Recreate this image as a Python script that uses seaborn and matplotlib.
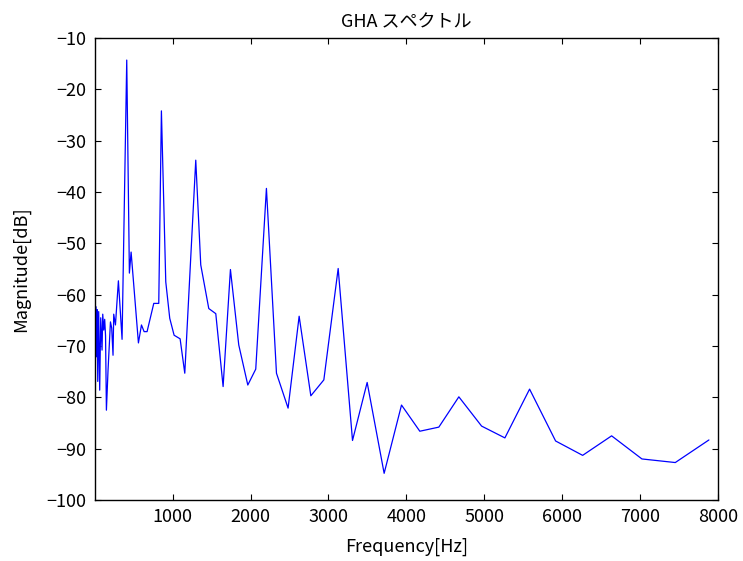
import numpy as np
import pandas as pd
import matplotlib
matplotlib.use('Agg')
import matplotlib.pyplot as plt
import seaborn as sns

# Spectrum values (Hz, dB)
freq = [4, 13, 22, 30, 39, 51, 64, 77, 94, 103, 116, 128, 139, 150, 171, 202,
        218, 235, 244, 266, 304, 351, 411, 445, 467, 561, 600, 634, 672, 758,
        822, 856, 912, 963, 1019, 1096, 1156, 1297, 1361, 1464, 1554, 1648,
        1742, 1849, 1965, 2067, 2204, 2333, 2482, 2624, 2774, 2941, 3125, 3309,
        3497, 3715, 3938, 4173, 4417, 4674, 4966, 5265, 5582, 5916, 6263, 6635,
        7024, 7452, 7884]
mag = [-66.9, -62.3, -72.1, -62.9, -76.9, -63.3, -78.6, -64.5, -70.8, -63.8,
       -66.9, -64.8, -68.0, -82.5, -74.7, -65.3, -66.5, -71.8, -63.8, -65.9,
       -57.3, -68.7, -14.3, -55.8, -51.7, -69.4, -65.9, -67.2, -67.2, -61.7,
       -61.7, -24.2, -57.5, -64.6, -67.9, -68.6, -75.3, -33.8, -54.2, -62.7,
       -63.7, -77.9, -55.1, -69.8, -77.6, -74.5, -39.3, -75.3, -82.1, -64.2,
       -79.7, -76.6, -54.9, -88.4, -77.1, -94.8, -81.5, -86.6, -85.8, -79.9,
       -85.6, -87.9, -78.4, -88.5, -91.3, -87.5, -92.0, -92.7, -88.3]

x_ticks = [1000, 2000, 3000, 4000, 5000, 6000, 7000, 8000]
y_ticks = [-100, -90, -80, -70, -60, -50, -40, -30, -20, -10]

df = pd.DataFrame({'freq': freq, 'mag': mag})

sns.set_style('ticks')
plt.rcParams['font.family'] = ['Noto Sans CJK JP', 'DejaVu Sans']
plt.rcParams['axes.unicode_minus'] = True
# plain black text and axes, like the original
for k in ['text.color', 'axes.labelcolor', 'xtick.color', 'ytick.color', 'axes.edgecolor']:
    plt.rcParams[k] = 'black'

fig = plt.figure(figsize=(7.43, 5.61), dpi=100)
ax = fig.add_axes([0.1279, 0.1087, 0.8384, 0.8236])

sns.lineplot(data=df, x='freq', y='mag', color='#0000ff', linewidth=0.9,
             sort=False, ax=ax)

ax.set_xlim(freq[0], 8000)
ax.set_ylim(-100, -10)
ax.set_xticks(x_ticks)
ax.set_yticks(y_ticks)
ax.tick_params(direction='in', top=True, right=True, length=4, width=0.8,
               labelsize=13, pad=6)
for s in ax.spines.values():
    s.set_linewidth(1.0)
    s.set_visible(True)

ax.set_title('GHA スペクトル', fontsize=13, pad=8)
ax.set_xlabel('Frequency[Hz]', fontsize=13, labelpad=8)
ax.set_ylabel('Magnitude[dB]', fontsize=13, labelpad=12)

fig.savefig('out.png', dpi=100)
